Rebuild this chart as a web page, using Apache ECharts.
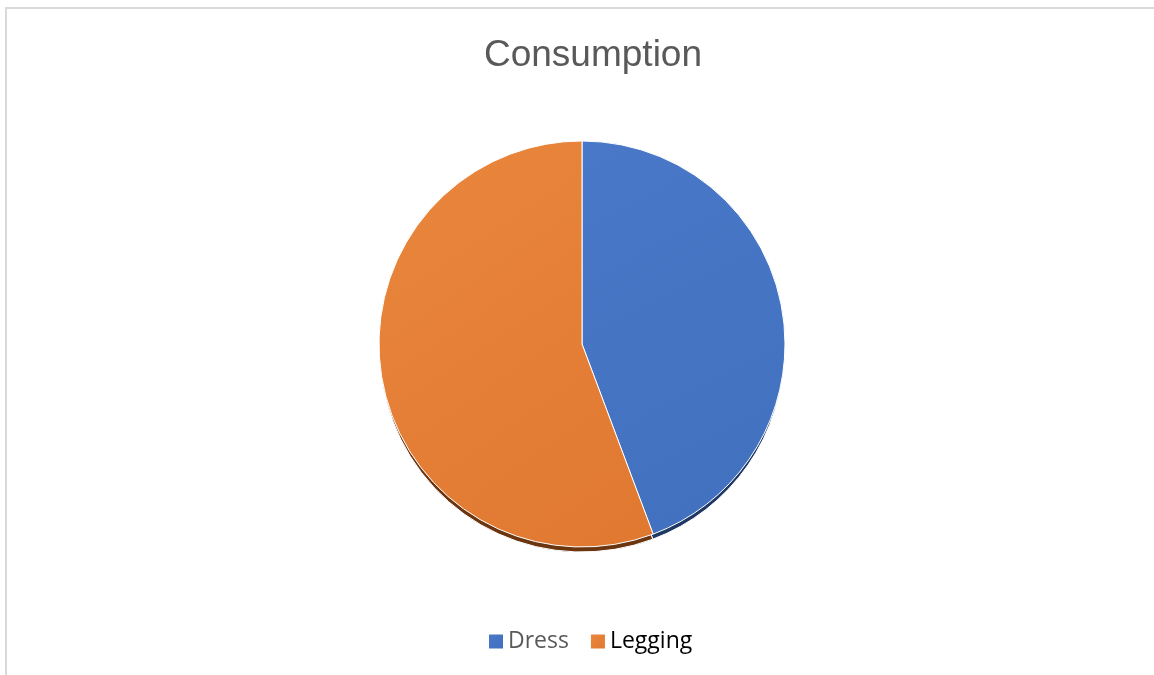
<!DOCTYPE html>
<html>
<head>
<meta charset="utf-8">
<script src="https://cdn.jsdelivr.net/npm/echarts@6/dist/echarts.min.js"></script>
<style>
html,body{margin:0;padding:0;background:#fff;}
#c{width:1154px;height:675px;}
</style>
</head>
<body>
<div id="c"></div>
<script>
const titleText = 'Consumption';
const categories = ['Dress', 'Legging'];
const values = [44.3, 55.7];
const faceColors = [['#4a78c8', '#4170bf'], ['#ea863d', '#e07830']];
const sideColors = ['#1f3864', '#6b3510'];

const chart = echarts.init(document.getElementById('c'));
const faceData = categories.map((n, i) => ({
  name: n, value: values[i],
  itemStyle: { color: new echarts.graphic.LinearGradient(0, 0, 1, 1, [
    { offset: 0, color: faceColors[i][0] }, { offset: 1, color: faceColors[i][1] }]) }
}));
const sideData = categories.map((n, i) => ({
  name: n, value: values[i], itemStyle: { color: sideColors[i] }
}));
chart.setOption({
  animation: false,
  graphic: [{
    type: 'polyline', silent: true,
    shape: { points: [[6, 700], [6, 8], [1160, 8]] },
    style: { stroke: '#d9d9d9', lineWidth: 2, fill: null }
  }],
  title: {
    text: titleText, left: 588, textAlign: 'center', top: 32,
    textStyle: { fontFamily: 'Liberation Sans', fontSize: 37, fontWeight: 'normal', color: '#595959' }
  },
  legend: {
    bottom: 17, left: 484, icon: 'rect', itemWidth: 14, itemHeight: 14, itemGap: 22, itemStyle: {borderWidth: 0},
    textStyle: { fontSize: 23, fontFamily: 'Open Sans' },
    data: [
      { name: 'Dress', textStyle: { color: '#595959' } },
      { name: 'Legging', textStyle: { color: '#000000' } }
    ]
  },
  series: [{
    type: 'pie', z: 3, radius: 203, center: [582, 344], startAngle: 90, clockwise: true,
    label: { show: false }, labelLine: { show: false }, emphasis: { disabled: true },
    itemStyle: { borderColor: '#ffffff', borderWidth: 1 },
    data: faceData
  }, {
    type: 'pie', z: 2, silent: true, radius: 202, center: [582, 350], startAngle: 90, clockwise: true,
    label: { show: false }, labelLine: { show: false }, emphasis: { disabled: true },
    itemStyle: { borderColor: '#ffffff', borderWidth: 1 },
    data: sideData
  }]
});
</script>
</body>
</html>
